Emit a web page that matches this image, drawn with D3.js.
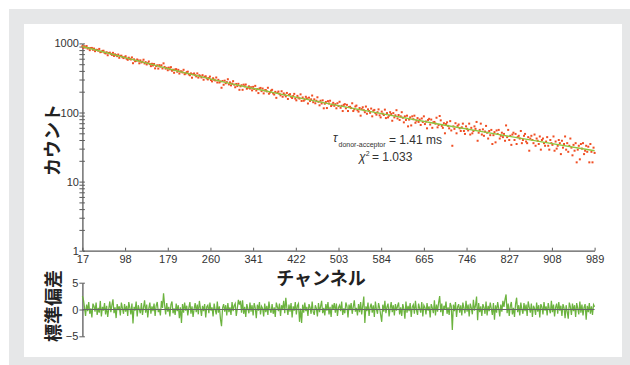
<!DOCTYPE html>
<html><head><meta charset="utf-8">
<script src="https://cdn.jsdelivr.net/npm/d3@7"></script>
<style>body{margin:0;background:#fff}svg{display:block}</style>
</head><body><svg id="c" width="630" height="365"></svg>
<script>
// ---- data ----
const channelStart = 17, channelEnd = 989, channelStep = 2;
const xTicks = [17, 98, 179, 260, 341, 422, 503, 584, 665, 746, 827, 908, 989];
const yMajorTicks = [1, 10, 100, 1000];
const residualTicks = [5, 0, -5];
const counts = [
911,861,910,872,915,841,857,798,856,860,
809,842,772,807,805,784,832,746,756,778,
783,733,716,745,674,726,735,705,682,730,
659,695,676,654,690,619,659,664,632,613,
630,652,599,579,621,598,585,627,517,588,
552,561,585,566,515,568,531,543,581,513,
536,496,518,547,502,469,507,479,504,435,
470,482,432,485,462,482,434,514,457,431,
442,409,446,421,453,402,416,376,419,424,
389,414,366,393,394,380,415,358,367,384,
390,356,346,368,319,358,367,347,333,368,
320,346,335,321,347,298,329,334,312,301,
315,331,295,282,313,298,291,321,272,297,
272,281,228,286,252,289,265,275,303,255,
273,247,262,284,253,232,259,241,260,213,
239,248,213,253,239,254,221,228,239,222,
232,209,235,219,243,208,218,191,222,227,
204,222,189,209,211,202,228,187,195,207,
213,189,182,199,163,193,201,186,177,203,
169,189,181,171,192,157,180,184,169,162,
173,186,159,150,174,164,159,183,147,165,
148,154,169,160,135,164,147,155,176,141,
155,136,148,166,143,127,148,135,150,115,
134,142,116,146,135,148,124,130,138,125,
132,115,136,124,143,117,125,105,129,132,
115,129,105,120,121,116,136,105,111,122,
126,108,103,116,90,112,119,108,101,122,
96,111,105,99,114,88,106,109,98,93,
101,111,91,85,103,96,92,110,83,98,
85,90,101,95,76,98,85,91,108,82,
92,78,88,101,84,72,88,78,90,63,
79,85,65,88,80,90,71,76,83,73,
79,66,82,73,88,68,74,59,78,81,
67,79,60,72,73,69,84,61,66,89,
77,64,60,70,50,68,72,64,59,75,
55,33,63,58,70,50,64,67,59,54,
61,69,54,49,63,58,55,69,48,60,
50,54,63,58,73,39,51,56,69,48,
57,46,53,64,51,42,54,47,56,35,
47,52,37,55,49,56,42,46,51,44,
49,39,65,44,56,40,46,34,48,51,
40,49,35,44,46,42,54,36,40,46,
49,38,36,44,28,42,46,40,36,48,
33,42,39,35,45,29,40,42,36,33,
38,44,33,29,40,36,34,45,28,38,
30,33,40,36,25,39,31,35,45,29,
36,27,33,42,31,24,34,28,36,19,
29,33,21,35,30,36,25,28,33,27,
32,19,35,27,19,31,26
];
const residuals = [
2.5,1.8,0.4,-1.2,0.9,-0.3,1.4,-0.8,0.2,-1.5,1.1,0.6,-0.4,1.3,-1.0,0.3,-0.6,1.6,-1.3,0.5,
-0.2,1.2,-0.9,0.7,-1.4,0.1,1.5,-0.5,0.8,1.9,-0.7,0.4,-1.6,1.0,-0.1,0.6,-1.1,1.3,0.2,-0.8,
1.0,-0.4,0.7,-1.2,1.4,0.3,-0.9,1.1,-2.6,0.5,-0.2,1.5,-1.3,0.8,0.0,-0.7,1.2,-1.0,0.4,1.7,
-0.6,0.9,-1.5,0.2,1.3,-0.8,0.6,-0.3,1.1,-1.2,0.7,1.4,-0.5,0.1,-1.1,1.6,0.3,3.0,0.8,-0.9,
1.2,-0.4,0.5,-1.3,0.9,1.5,-0.7,0.2,-1.0,1.1,-0.3,0.8,-1.6,0.4,-2.5,1.0,-0.6,1.3,-0.2,0.7,
-1.1,0.3,1.4,-0.8,0.6,-1.4,0.1,1.2,-0.5,0.9,-0.9,1.6,0.2,-1.2,0.7,-0.3,1.0,-1.5,0.5,0.8,
-0.7,1.3,-0.2,0.4,-1.3,1.1,0.0,-0.9,1.5,-0.6,0.6,-1.8,-3.1,0.3,1.0,-0.4,0.8,-1.1,1.2,-0.5,
0.4,-1.0,1.4,-0.3,0.7,1.1,-1.2,0.2,1.8,0.9,1.6,-0.6,1.7,-0.8,0.5,-1.4,1.0,0.1,-0.7,1.3,
-0.4,0.8,-1.1,1.2,0.3,-1.6,0.9,-0.2,1.4,-0.9,0.6,0.2,-1.3,1.1,-0.5,0.7,-1.0,1.5,0.0,-0.6,
1.0,-0.8,0.4,-1.4,1.3,0.5,-0.3,1.1,-1.2,0.8,-0.1,1.6,-0.7,2.2,0.3,-1.0,0.9,-0.4,1.2,-1.5,
0.6,-0.2,1.4,-0.9,0.7,1.1,-2.3,0.2,-2.5,0.9,-0.6,1.3,-0.3,0.5,-1.2,1.0,0.4,-0.8,1.5,-0.4,
-1.0,0.8,0.2,-1.3,1.2,-0.5,0.6,1.6,-0.7,0.3,-1.1,1.0,-0.2,1.4,-0.9,0.5,-1.4,0.9,0.1,1.2,
-0.6,1.1,-1.2,0.4,0.8,-0.3,1.5,-1.0,0.2,-0.7,1.3,0.6,-1.5,0.9,-0.1,1.2,-0.8,0.5,1.7,-0.4,
0.3,-1.1,1.0,-0.5,1.4,-0.9,0.7,2.4,-2.5,0.6,-0.3,1.3,-1.2,0.4,1.1,-0.6,0.8,-1.4,1.5,0.0,
-0.8,1.2,0.3,-1.0,-2.3,0.9,-0.4,1.6,-0.7,0.5,1.1,-1.3,0.2,1.4,-0.5,0.8,-1.1,1.0,-0.2,0.6,
1.3,-0.9,0.4,-1.2,1.0,0.1,-1.7,1.5,-0.6,0.7,-0.3,1.2,-1.4,0.5,0.9,-0.8,1.6,-0.1,-1.0,1.1,
0.2,-0.6,1.4,-1.3,0.8,0.4,-0.9,1.2,-0.2,0.6,-1.5,1.0,0.3,-0.7,1.7,-1.1,0.9,-0.4,1.3,2.5,
-0.5,1.1,-1.2,0.7,0.0,1.5,-0.8,0.4,-1.0,1.2,0.6,-3.8,0.9,-0.3,1.4,-1.4,0.5,1.0,-0.6,0.8,
-1.1,1.3,0.2,-0.7,1.6,-0.4,0.9,-1.3,1.1,0.3,-0.9,1.8,-0.2,0.7,2.4,-2.0,1.2,-0.5,0.6,-1.2,
1.0,0.4,-0.8,1.5,-1.1,0.7,-0.3,1.3,0.1,-1.0,1.2,-1.9,0.8,-0.6,1.4,0.2,-1.3,0.9,-0.4,1.6,
0.5,1.9,2.8,-0.7,1.1,-1.2,0.6,1.4,-0.9,0.3,-1.4,1.0,2.2,-0.5,0.8,-1.1,1.3,0.0,-0.8,1.2,
-0.3,0.9,-1.2,1.5,0.4,-0.6,1.1,-1.4,0.7,0.2,-1.0,1.3,-0.4,0.8,-1.5,1.0,0.5,-0.9,1.4,-0.2,
0.6,-1.1,1.2,0.1,-0.7,1.6,-0.5,0.9,-1.3,0.4,1.1,-0.8,1.4,-0.2,0.7,-1.2,1.0,0.3,-1.6,0.8,
-0.4,-1.7,1.3,0.5,-1.0,1.1,-0.3,0.8,-1.4,1.2,0.2,-0.9,1.5,-0.6,0.9,-1.1,0.4,1.0,-1.9,0.7,
-0.5,1.2,-0.8,0.6,-1.0,0.9,0.5
];
const fitChannels = [17, 100, 200, 300, 400, 500, 600, 700, 800, 900, 989];
const fitCounts = [902, 617, 394, 260, 180, 127, 91.6, 66.5, 49, 36.3, 27.9];
const labelX = "チャンネル";
const labelY = "カウント";
const labelRes = "標準偏差";

// ---- drawing ----
const channels = d3.range(channelStart, channelEnd + 1, channelStep);
const svg = d3.select('#c');
const NUM_FONT = "'Liberation Sans', Arial, Helvetica, sans-serif";
const JP_FONT = "'Noto Sans CJK JP', 'Noto Sans CJK SC', sans-serif";
const AX = '#5a5a5a';

svg.append('rect').attr('width', 630).attr('height', 365).attr('fill', '#fff');
svg.append('rect').attr('x', 9).attr('y', 9).attr('width', 621).attr('height', 356).attr('fill', '#e6e7e8');
svg.append('rect').attr('x', 24).attr('y', 24).attr('width', 598).attr('height', 333).attr('fill', '#fff');

const x = d3.scaleLinear().domain([17, 989]).range([82.4, 594.6]);
const y = d3.scaleLog().domain([1, 1000]).range([250.7, 43.4]);
const yr = d3.scaleLinear().domain([-5, 5]).range([336.3, 282.7]);

// minor ticks for log axis
const yAllTicks = [];
yMajorTicks.slice(0, 3).forEach(d => { for (let k = 1; k < 10; k++) yAllTicks.push(d * k); });
yAllTicks.push(1000);

function styleAxis(g) {
  g.selectAll('path.domain').attr('stroke', AX).attr('stroke-width', 1.3);
  g.selectAll('.tick line').attr('stroke', AX).attr('stroke-width', 1);
  g.selectAll('.tick text').attr('fill', '#333').attr('font-family', NUM_FONT).attr('font-size', 11);
}

// x axis
const gx = svg.append('g').attr('transform', `translate(0,${y(1)})`)
  .call(d3.axisBottom(x).tickValues(xTicks).tickSizeInner(-3).tickSizeOuter(0).tickPadding(5).tickFormat(d3.format('d')));
styleAxis(gx);

// y axis (log)
const gy = svg.append('g').attr('transform', `translate(${x(17)},0)`)
  .call(d3.axisLeft(y).tickValues(yAllTicks).tickSizeInner(3).tickSizeOuter(0).tickPadding(0.5)
    .tickFormat(d => yMajorTicks.includes(d) ? d3.format('d')(d) : ''));
styleAxis(gy);
const gy2 = svg.append('g').attr('transform', `translate(${x(17)},0)`)
  .call(d3.axisRight(y).tickValues(yAllTicks).tickSizeInner(2.5).tickSizeOuter(0).tickFormat(''));
gy2.select('path.domain').remove();
styleAxis(gy2);

// data points
svg.append('g').selectAll('rect').data(counts).join('rect')
  .attr('x', (d, i) => x(channels[i]) - 1)
  .attr('y', d => y(d) - 1)
  .attr('width', 2).attr('height', 2)
  .attr('fill', '#f04e23');

// fit line
const fitLine = d3.line().x((d, i) => x(fitChannels[i])).y(d => y(d));
svg.append('path').datum(fitCounts).attr('d', fitLine)
  .attr('fill', 'none').attr('stroke', '#8dc63f').attr('stroke-width', 1.4);

// residual axis
const gr = svg.append('g').attr('transform', `translate(${x(17)},0)`)
  .call(d3.axisLeft(yr).tickValues(residualTicks).tickSizeInner(3).tickSizeOuter(0).tickPadding(1));
styleAxis(gr);
const gr2 = svg.append('g').attr('transform', `translate(${x(17)},0)`)
  .call(d3.axisRight(yr).tickValues(residualTicks).tickSizeInner(2.5).tickSizeOuter(0).tickFormat(''));
gr2.select('path.domain').remove();
styleAxis(gr2);

// residual line
const resLine = d3.line().x((d, i) => x(channels[i])).y(d => yr(d));
svg.append('path').datum(residuals).attr('d', resLine)
  .attr('fill', 'none').attr('stroke', '#6cb33f').attr('stroke-width', 1.25);
svg.append('line').attr('x1', x(17)).attr('x2', x(989)).attr('y1', yr(0)).attr('y2', yr(0))
  .attr('stroke', '#666').attr('stroke-width', 1);

// axis titles
svg.append('text').attr('x', 321).attr('y', 285).attr('text-anchor', 'middle')
  .attr('font-family', JP_FONT).attr('font-size', 18).attr('font-weight', 700).attr('fill', '#222').text(labelX);
svg.append('text').attr('transform', 'translate(51,140) rotate(-90)').attr('text-anchor', 'middle')
  .attr('dominant-baseline', 'central')
  .attr('font-family', JP_FONT).attr('font-size', 18).attr('font-weight', 700).attr('fill', '#222').text(labelY);
svg.append('text').attr('transform', 'translate(52,306) rotate(-90)').attr('text-anchor', 'middle')
  .attr('dominant-baseline', 'central')
  .attr('font-family', JP_FONT).attr('font-size', 18).attr('font-weight', 700).attr('fill', '#222').text(labelRes);

// annotations
const ann = svg.append('g').attr('fill', '#333').attr('font-family', NUM_FONT);
ann.append('text').attr('x', 333).attr('y', 142).attr('font-size', 12).attr('font-style', 'italic').text('τ');
ann.append('text').attr('x', 338.5).attr('y', 146.5).attr('font-size', 7).text('donor-acceptor');
ann.append('text').attr('x', 389).attr('y', 143.5).attr('font-size', 12).text('= 1.41 ms');
ann.append('text').attr('x', 359).attr('y', 160.7).attr('font-size', 12).attr('font-style', 'italic').text('χ');
ann.append('text').attr('x', 365.8).attr('y', 155.5).attr('font-size', 7).text('2');
ann.append('text').attr('x', 372).attr('y', 160.7).attr('font-size', 12).text('= 1.033');
</script>
</body></html>
